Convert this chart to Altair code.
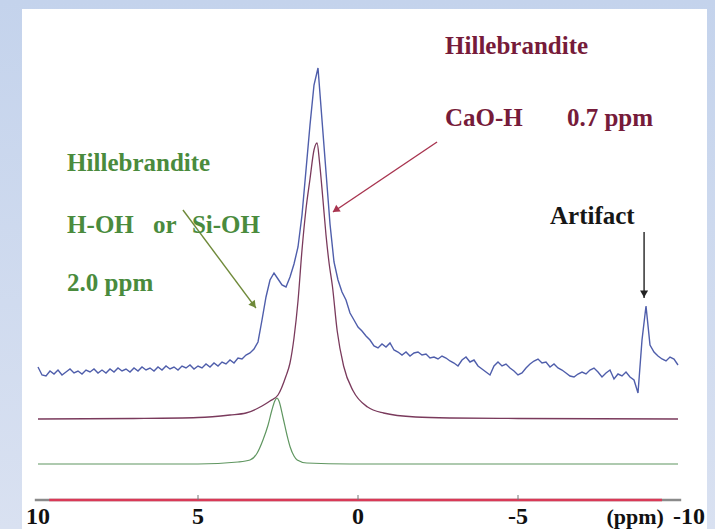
import altair as alt
import pandas as pd

# ---------------------------------------------------------------------------
# 1H MAS NMR of hillebrandite: measured trace plus two fitted components
# ---------------------------------------------------------------------------

# measured spectrum, sampled every 0.125 ppm from 10 ppm down to -10 ppm
PPM_START = 10.0
PPM_STEP = 0.125
measured = [
    5, -3, -4, 1, -2, 2, -3, 0, 3, -1,
    1, -2, 2, 0, 3, -1, 2, -1, 3, 0,
    4, 1, 3, 0, 4, 1, 5, 2, 4, 1,
    5, 2, 6, 3, 5, 2, 6, 4, 7, 3,
    6, 4, 8, 5, 9, 6, 10, 8, 12, 9,
    14, 13, 17, 19, 23, 30, 52, 75, 92, 99,
    93, 87, 85, 95, 108, 125, 157, 202, 247, 287,
    304, 252, 200, 148, 110, 92, 80, 72, 59, 52,
    45, 41, 36, 32, 26, 24, 28, 25, 29, 22,
    20, 17, 20, 16, 19, 20, 17, 18, 14, 15,
    13, 16, 14, 11, 9, 6, 12, 15, 10, 12,
    6, 3, 0, -3, 6, 10, 6, 8, 4, 1,
    -3, -1, 4, 8, 11, 13, 9, 10, 5, 8,
    4, 2, -1, -4, -5, -2, 0, -2, 2, 4,
    0, -5, -1, 2, -7, -2, -4, 0, -5, -8,
    -21, 32, 66, 27, 20, 16, 13, 11, 15, 13,
    7,
]
measured_ppm = [PPM_START - PPM_STEP * i for i in range(len(measured))]

# fitted CaO-H component
ca_ppm = [10, 7, 5, 4, 3.5, 3, 2.75, 2.5, 2.25, 2.125, 2.0, 1.875, 1.75, 1.625,
          1.5, 1.375, 1.28, 1.2, 1.1, 1.0, 0.9, 0.8, 0.65, 0.45, 0.15, -0.3,
          -0.8, -1.8, -2.9, -5, -10]
ca_int = [0, 0.5, 1.5, 4, 6, 13, 18, 24, 43, 56, 81, 118, 169, 210,
          240, 269, 276, 256, 221, 184, 155, 133, 88, 53, 28, 12,
          6, 2, 1, 0.5, 0]

# fitted H-OH / Si-OH component
si_ppm = [10, 5, 3.75, 3.375, 3.15, 2.97, 2.81, 2.69, 2.6, 2.53, 2.47, 2.34,
          2.22, 2.12, 2.0, 1.9, 1.6, 0.25, -10]
si_int = [0, 0, 2, 4, 11, 24, 39, 54, 63, 66, 63, 46,
          29, 17, 8, 4, 1, 0, 0]

# vertical stacking of the traces and the ppm scale bar
OFFSET_MEASURED = 157
OFFSET_CA = 110
OFFSET_SI = 65
AXIS_LEVEL = 29

# ppm scale bar
tick_values = [10, 5, 0, -5]
tick_labels = ["10", "5", "0", "-5"]
end_value = -10
end_label = "-10"
unit_label = "(ppm)"
unit_ppm = -8.66
minor_ticks = [5, 0, -5]

# annotations
note_text = ["Hillebrandite", "CaO-H", "0.7 ppm",
             "Hillebrandite", "H-OH", "or", "Si-OH", "2.0 ppm",
             "Artifact"]
note_ppm = [-2.72, -2.72, -6.53, 9.09, 9.09, 6.41, 5.19, 9.09, -6.0]
note_level = [483, 411, 411, 366, 304, 304, 304, 246, 313]
note_group = ["ca", "ca", "ca", "si", "si", "si", "si", "si", "art"]

arrow_group = ["ca", "si", "art"]
arrow_from_ppm = [-2.47, 5.47, -8.94]
arrow_from_level = [387, 319, 297]
arrow_to_ppm = [0.78, 3.19, -8.94]
arrow_to_level = [317, 221, 231]
head_ppm = [0.70, 3.26, -8.94]
head_level = [319, 224, 235]
head_angle = [236, 143, 180]

# ---------------------------------------------------------------------------
W, H = 685, 520
SERIF = "Liberation Serif"

x_scale = alt.Scale(domain=[-10.90625, 10.5], reverse=True, nice=False, zero=False)
y_scale = alt.Scale(domain=[0, 520], nice=False, zero=False)


def X(field="ppm"):
    return alt.X(f"{field}:Q", scale=x_scale, axis=None)


def Y(field="level"):
    return alt.Y(f"{field}:Q", scale=y_scale, axis=None)


text_color = alt.Color(
    "group:N",
    scale=alt.Scale(domain=["ca", "si", "art"], range=["#761b3a", "#4a8b3d", "#161616"]),
    legend=None,
)
arrow_color = alt.Color(
    "group:N",
    scale=alt.Scale(domain=["ca", "si", "art"], range=["#a8344f", "#6f8a3a", "#222222"]),
    legend=None,
)

one = pd.DataFrame({"k": [0]})

# framed slide background and white panel
backdrop = alt.Chart(one).mark_rect(
    color={"gradient": "linear", "x1": 0, "x2": 0, "y1": 0, "y2": 1,
           "stops": [{"offset": 0, "color": "#c4d3ec"}, {"offset": 1, "color": "#d9e1f1"}]}
).encode(x=alt.value(-22), x2=alt.value(W + 8), y=alt.value(-9), y2=alt.value(H))

panel = alt.Chart(one).mark_rect(color="white").encode(
    x=alt.value(0), x2=alt.value(W), y=alt.value(0), y2=alt.value(H)
)

df_meas = pd.DataFrame({"ppm": measured_ppm, "level": [v + OFFSET_MEASURED for v in measured]})
df_ca = pd.DataFrame({"ppm": ca_ppm, "level": [v + OFFSET_CA for v in ca_int]})
df_si = pd.DataFrame({"ppm": si_ppm, "level": [v + OFFSET_SI for v in si_int]})

line_si = alt.Chart(df_si).mark_line(color="#5f9660", strokeWidth=1.2, interpolate="monotone").encode(
    x=X(), y=Y(), order="ppm:Q")
line_ca = alt.Chart(df_ca).mark_line(color="#7a3a5c", strokeWidth=1.3, interpolate="monotone").encode(
    x=X(), y=Y(), order="ppm:Q")
line_meas = alt.Chart(df_meas).mark_line(color="#4f5eab", strokeWidth=1.4).encode(
    x=X(), y=Y(), order="ppm:Q")

# scale bar
bar_df = pd.DataFrame({"ppm": [10.1], "ppm2": [-10.1], "level": [AXIS_LEVEL]})
bar_grey = alt.Chart(bar_df).mark_rule(color="#8a8a8a", strokeWidth=2.5).encode(
    x=X(), x2="ppm2:Q", y=Y())
red_df = pd.DataFrame({"ppm": [9.65], "ppm2": [-9.5], "level": [AXIS_LEVEL]})
bar_red = alt.Chart(red_df).mark_rule(color="#d93a57", strokeWidth=2.5).encode(
    x=X(), x2="ppm2:Q", y=Y())
tick_df = pd.DataFrame({"ppm": minor_ticks, "level": [AXIS_LEVEL] * 3, "level2": [AXIS_LEVEL + 5] * 3})
ticks = alt.Chart(tick_df).mark_rule(color="#777777", strokeWidth=1).encode(
    x=X(), y=Y(), y2="level2:Q")

AXIS_FONT = 24
lab_df = pd.DataFrame({"ppm": tick_values, "level": [AXIS_LEVEL - 17] * 4, "label": tick_labels})
labels = alt.Chart(lab_df).mark_text(
    font=SERIF, fontWeight="bold", fontSize=AXIS_FONT, color="#111111", align="center", baseline="middle"
).encode(x=X(), y=Y(), text="label:N")
end_df = pd.DataFrame({"ppm": [end_value], "level": [AXIS_LEVEL - 17], "label": [end_label]})
end_lab = alt.Chart(end_df).mark_text(
    font=SERIF, fontWeight="bold", fontSize=AXIS_FONT, color="#111111", align="center", baseline="middle", dx=11
).encode(x=X(), y=Y(), text="label:N")
unit_df = pd.DataFrame({"ppm": [unit_ppm], "level": [AXIS_LEVEL - 17], "label": [unit_label]})
unit_lab = alt.Chart(unit_df).mark_text(
    font=SERIF, fontWeight="bold", fontSize=22, color="#111111", align="center", baseline="middle"
).encode(x=X(), y=Y(), text="label:N")

# arrows pointing at the assigned resonances
arrow_df = pd.DataFrame({
    "ppm": arrow_from_ppm, "level": arrow_from_level,
    "ppm2": arrow_to_ppm, "level2": arrow_to_level, "group": arrow_group,
})
arrows = alt.Chart(arrow_df).mark_rule(strokeWidth=1.4).encode(
    x=X(), y=Y(), x2="ppm2:Q", y2="level2:Q", color=arrow_color)

head_df = pd.DataFrame({"ppm": head_ppm, "level": head_level, "angle": head_angle, "group": arrow_group})
heads = alt.Chart(head_df).mark_point(shape="triangle-up", filled=True, size=64, opacity=1).encode(
    x=X(), y=Y(), angle=alt.Angle("angle:Q", scale=None), color=arrow_color)

arrow_layer = alt.layer(arrows, heads)

# assignment labels
note_df = pd.DataFrame({"ppm": note_ppm, "level": note_level, "label": note_text, "group": note_group})
notes = alt.Chart(note_df).mark_text(
    font=SERIF, fontWeight="bold", fontSize=25, align="left", baseline="middle"
).encode(x=X(), y=Y(), text="label:N", color=text_color)

chart = alt.layer(
    backdrop, panel,
    line_si, line_ca, line_meas,
    bar_grey, bar_red, ticks, labels, end_lab, unit_lab,
    arrow_layer, notes,
).resolve_scale(
    color="independent"
).properties(
    width=W,
    height=H,
    padding={"left": 22, "top": 9, "right": 8, "bottom": 0},
    autosize=alt.AutoSizeParams(type="none"),
    background="#c8d6ed",
).configure_view(strokeWidth=0)

chart.save("out.html", embed_options={"renderer": "svg", "actions": False})
